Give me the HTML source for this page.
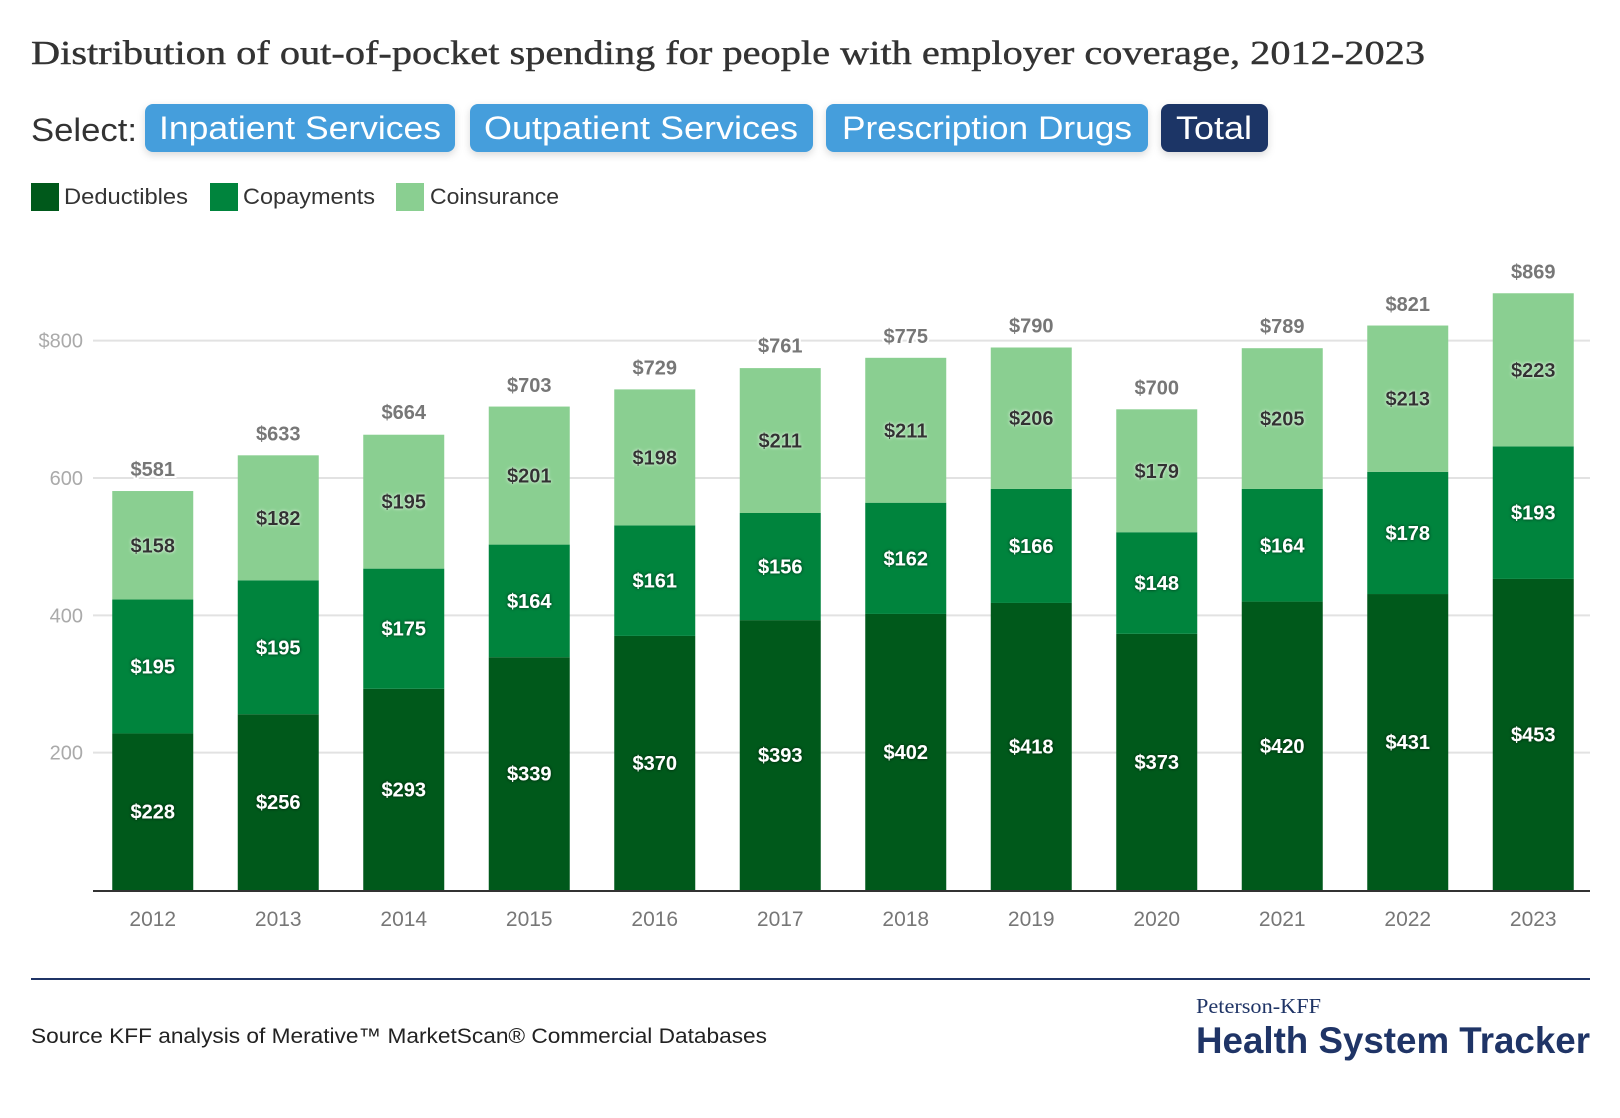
<!DOCTYPE html>
<html><head><meta charset="utf-8"><style>
html,body{margin:0;padding:0;background:#fff;}
svg{display:block;}
</style></head><body>
<svg id="chart" width="1620" height="1118" viewBox="0 0 1620 1118" xmlns="http://www.w3.org/2000/svg">
<defs>
<filter id="shd" x="-20%" y="-20%" width="140%" height="140%"><feDropShadow dx="0" dy="3" stdDeviation="4" flood-color="#000" flood-opacity="0.15"/></filter>
<filter id="glowDark" x="-20%" y="-40%" width="140%" height="180%"><feDropShadow dx="0" dy="0" stdDeviation="1.5" flood-color="#000" flood-opacity="0.7"/></filter>
<filter id="glowLight" x="-20%" y="-40%" width="140%" height="180%"><feDropShadow dx="0" dy="0" stdDeviation="1.5" flood-color="#fff" flood-opacity="0.9"/></filter>
</defs>
<text x="31" y="64" font-family="Liberation Serif, serif" font-size="34" fill="#333" stroke="#333" stroke-width="0.4" textLength="1394" lengthAdjust="spacingAndGlyphs">Distribution of out-of-pocket spending for people with employer coverage, 2012-2023</text>
<text x="31" y="141" font-family="Liberation Sans, sans-serif" font-size="32" fill="#333" textLength="106" lengthAdjust="spacingAndGlyphs">Select:</text>
<g><rect x="145" y="104" width="310" height="48" rx="8" fill="#449edc" filter="url(#shd)"/><text x="300" y="139" text-anchor="middle" font-family="Liberation Sans, sans-serif" font-size="32" fill="#fff" textLength="282" lengthAdjust="spacingAndGlyphs">Inpatient Services</text></g>
<g><rect x="470" y="104" width="343" height="48" rx="8" fill="#449edc" filter="url(#shd)"/><text x="641" y="139" text-anchor="middle" font-family="Liberation Sans, sans-serif" font-size="32" fill="#fff" textLength="314" lengthAdjust="spacingAndGlyphs">Outpatient Services</text></g>
<g><rect x="826" y="104" width="322" height="48" rx="8" fill="#449edc" filter="url(#shd)"/><text x="987" y="139" text-anchor="middle" font-family="Liberation Sans, sans-serif" font-size="32" fill="#fff" textLength="290" lengthAdjust="spacingAndGlyphs">Prescription Drugs</text></g>
<g><rect x="1161" y="104" width="107" height="48" rx="8" fill="#1f3466" filter="url(#shd)"/><text x="1214" y="139" text-anchor="middle" font-family="Liberation Sans, sans-serif" font-size="32" fill="#fff" textLength="76" lengthAdjust="spacingAndGlyphs">Total</text></g>
<g>
<g><rect x="31" y="183" width="28" height="28" fill="#00591b"/><text x="64" y="204" font-family="Liberation Sans, sans-serif" font-size="22" fill="#333" textLength="124" lengthAdjust="spacingAndGlyphs">Deductibles</text></g>
<g><rect x="210" y="183" width="28" height="28" fill="#00843d"/><text x="243" y="204" font-family="Liberation Sans, sans-serif" font-size="22" fill="#333" textLength="132" lengthAdjust="spacingAndGlyphs">Copayments</text></g>
<g><rect x="396" y="183" width="28" height="28" fill="#8acf91"/><text x="430" y="204" font-family="Liberation Sans, sans-serif" font-size="22" fill="#333" textLength="129" lengthAdjust="spacingAndGlyphs">Coinsurance</text></g>
</g>
<g id="grid"></g>
<g id="bars"></g>
<g id="labels"></g>
<line x1="31" y1="979" x2="1590" y2="979" stroke="#1f3466" stroke-width="2"/>
<text x="31" y="1043" font-family="Liberation Sans, sans-serif" font-size="21" fill="#222" textLength="736" lengthAdjust="spacingAndGlyphs">Source KFF analysis of Merative™ MarketScan® Commercial Databases</text>
<text x="1196" y="1013" font-family="Liberation Serif, serif" font-size="21" fill="#1f3466" textLength="125" lengthAdjust="spacingAndGlyphs">Peterson-KFF</text>
<text x="1196" y="1053" font-family="Liberation Sans, sans-serif" font-weight="bold" font-size="37" fill="#1f3466" textLength="394" lengthAdjust="spacingAndGlyphs">Health System Tracker</text>
</svg>
<script>
const years = ["2012","2013","2014","2015","2016","2017","2018","2019","2020","2021","2022","2023"];
const deductibles = [228,256,293,339,370,393,402,418,373,420,431,453];
const copayments = [195,195,175,164,161,156,162,166,148,164,178,193];
const coinsurance = [158,182,195,201,198,211,211,206,179,205,213,223];
const totals = [581,633,664,703,729,761,775,790,700,789,821,869];
const yTicks = [200,400,600,800];
const yTickLabels = ["200","400","600","$800"];

const NS = "http://www.w3.org/2000/svg";
const plotLeft = 90, plotRight = 1596, axisY = 890, pxPerUnit = 0.6867;
const band = (plotRight - plotLeft) / years.length;
const barW = 81;
function y(v){ return axisY - v * pxPerUnit; }
function xc(i){ return plotLeft + band * i + band / 2; }
function mk(tag, attrs, parent){
  const el = document.createElementNS(NS, tag);
  for (const k in attrs) el.setAttribute(k, attrs[k]);
  parent.appendChild(el);
  return el;
}
const grid = document.getElementById('grid');
const bars = document.getElementById('bars');
const labels = document.getElementById('labels');

yTicks.forEach((t, i) => {
  const ln = mk('line', {x1: 93, x2: 1590, y1: y(t), y2: y(t), stroke: '#e2e2e2', 'stroke-width': 2}, grid);
  
  
  const tx = mk('text', {x: 83, y: y(t) + 7, 'text-anchor': 'end', 'font-family': 'Liberation Sans, sans-serif', 'font-size': 20, fill: '#aaa'}, grid);
  tx.textContent = yTickLabels[i];
  
  
});
const axis = mk('line', {x1: 93, x2: 1590, y1: axisY + 1, y2: axisY + 1, stroke: '#333', 'stroke-width': 2}, grid);



const series = [
  {vals: deductibles, color: '#00591b', name: 'deductibles', dark: true},
  {vals: copayments, color: '#00843d', name: 'copayments', dark: true},
  {vals: coinsurance, color: '#8acf91', name: 'coinsurance', dark: false}
];
years.forEach((yr, i) => {
  let base = 0;
  series.forEach(s => {
    const v = s.vals[i];
    const top = base + v;
    const r = mk('rect', {x: xc(i) - barW/2, y: y(top), width: barW, height: y(base) - y(top), fill: s.color}, bars);
    
    
    const t = mk('text', {x: xc(i), y: (y(top) + y(base)) / 2 + 7, 'text-anchor': 'middle', 'font-family': 'Liberation Sans, sans-serif', 'font-weight': 'bold', 'font-size': 20, fill: s.dark ? '#fff' : '#333', filter: s.dark ? 'url(#glowDark)' : 'url(#glowLight)'}, labels);
    t.textContent = '$' + v;
    
    
    base = top;
  });
  const tt = mk('text', {x: xc(i), y: y(totals[i]) - 15, 'text-anchor': 'middle', 'font-family': 'Liberation Sans, sans-serif', 'font-weight': 'bold', 'font-size': 20, fill: '#777', stroke: '#fff', 'stroke-width': 4, 'paint-order': 'stroke'}, labels);
  tt.textContent = '$' + totals[i];
  
  
  const xl = mk('text', {x: xc(i), y: 926, 'text-anchor': 'middle', 'font-family': 'Liberation Sans, sans-serif', 'font-size': 21, fill: '#777'}, labels);
  xl.textContent = yr;
  
  
});
</script>
</body></html>
